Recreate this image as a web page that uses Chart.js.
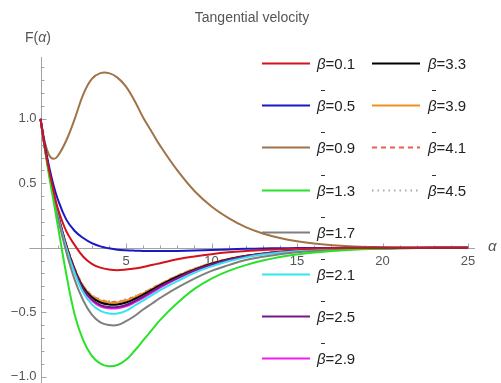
<!DOCTYPE html>
<html>
<head>
<meta charset="utf-8">
<script src="https://cdn.jsdelivr.net/npm/chart.js@4.4.0/dist/chart.umd.min.js"></script>
<style>
  html, body { margin: 0; padding: 0; background: #fff; }
  #wrap { width: 501px; height: 383px; }
</style>
</head>
<body>
<div id="wrap"><canvas id="velChart" width="501" height="383"></canvas></div>
<script>
// alpha grid shared by every curve
const alpha = [0, 0.25, 0.5, 0.75, 1, 1.5, 2, 2.5, 3, 3.5, 4, 4.5, 5, 5.5, 6, 6.5, 7, 8, 9, 10, 11, 12, 13, 14, 15, 16, 18, 20, 22, 25];

const betaLabels = ['0.1', '0.5', '0.9', '1.3', '1.7', '2.1', '2.5', '2.9', '3.3', '3.9', '4.1', '4.5'];

const fBeta01 = [1, 0.78, 0.6, 0.45, 0.31, 0.13, 0.02, -0.07, -0.125, -0.155, -0.17, -0.175, -0.17, -0.162, -0.15, -0.135, -0.12, -0.09, -0.068, -0.05, -0.036, -0.026, -0.018, -0.013, -0.009, -0.006, -0.003, -0.001, 0, 0];
const fBeta05 = [1, 0.8, 0.63, 0.49, 0.38, 0.22, 0.13, 0.075, 0.035, 0.01, -0.005, -0.015, -0.02, -0.023, -0.025, -0.026, -0.026, -0.025, -0.022, -0.018, -0.013, -0.009, -0.006, -0.004, -0.003, -0.002, -0.001, 0, 0, 0];
const fBeta09 = [1, 0.82, 0.72, 0.69, 0.71, 0.83, 1.0, 1.19, 1.31, 1.355, 1.355, 1.32, 1.25, 1.14, 1.01, 0.9, 0.79, 0.6, 0.44, 0.32, 0.23, 0.16, 0.11, 0.075, 0.05, 0.033, 0.012, 0.004, 0.001, 0];
const fBeta13 = [1, 0.77, 0.56, 0.37, 0.18, -0.2, -0.52, -0.72, -0.84, -0.9, -0.92, -0.91, -0.87, -0.8, -0.72, -0.64, -0.56, -0.43, -0.32, -0.24, -0.18, -0.135, -0.1, -0.072, -0.052, -0.037, -0.018, -0.008, -0.003, 0];
const fBeta17 = [1, 0.78, 0.58, 0.4, 0.24, -0.03, -0.25, -0.41, -0.52, -0.58, -0.6, -0.6, -0.57, -0.53, -0.48, -0.435, -0.39, -0.31, -0.24, -0.18, -0.135, -0.095, -0.07, -0.05, -0.036, -0.026, -0.013, -0.006, -0.002, 0];
const fBeta21 = [1, 0.78, 0.59, 0.41, 0.25, 0.0, -0.2, -0.35, -0.44, -0.49, -0.51, -0.51, -0.49, -0.45, -0.41, -0.37, -0.33, -0.26, -0.195, -0.145, -0.105, -0.075, -0.053, -0.038, -0.027, -0.02, -0.01, -0.004, -0.002, 0];
const fBeta25 = [1, 0.78, 0.59, 0.42, 0.26, 0.01, -0.18, -0.32, -0.4, -0.445, -0.46, -0.46, -0.445, -0.415, -0.38, -0.34, -0.3, -0.235, -0.175, -0.13, -0.093, -0.066, -0.047, -0.034, -0.025, -0.018, -0.009, -0.004, -0.002, 0];
const fBeta29 = [1, 0.78, 0.59, 0.42, 0.26, 0.01, -0.185, -0.33, -0.41, -0.455, -0.47, -0.47, -0.455, -0.425, -0.39, -0.35, -0.31, -0.24, -0.18, -0.133, -0.095, -0.068, -0.048, -0.035, -0.025, -0.018, -0.009, -0.004, -0.002, 0];
const fBeta33 = [1, 0.78, 0.6, 0.42, 0.27, 0.02, -0.17, -0.31, -0.385, -0.425, -0.44, -0.44, -0.425, -0.398, -0.365, -0.328, -0.29, -0.225, -0.17, -0.125, -0.09, -0.064, -0.046, -0.033, -0.024, -0.017, -0.009, -0.004, -0.002, 0];
const fBeta39 = [1, 0.78, 0.6, 0.43, 0.27, 0.025, -0.165, -0.3, -0.375, -0.41, -0.425, -0.425, -0.41, -0.385, -0.355, -0.32, -0.285, -0.22, -0.165, -0.122, -0.088, -0.063, -0.045, -0.032, -0.023, -0.017, -0.009, -0.004, -0.002, 0];
const fBeta41 = [1, 0.78, 0.6, 0.43, 0.27, 0.027, -0.162, -0.297, -0.37, -0.405, -0.42, -0.42, -0.405, -0.38, -0.352, -0.318, -0.283, -0.218, -0.164, -0.121, -0.087, -0.062, -0.045, -0.032, -0.023, -0.017, -0.009, -0.004, -0.002, 0];
const fBeta45 = [1, 0.78, 0.6, 0.43, 0.27, 0.03, -0.16, -0.293, -0.366, -0.4, -0.415, -0.415, -0.4, -0.376, -0.348, -0.314, -0.28, -0.216, -0.162, -0.12, -0.086, -0.062, -0.044, -0.032, -0.023, -0.017, -0.009, -0.004, -0.002, 0];

const xTickLabels = [5, 10, 15, 20, 25];
const yTickLabels = [-1.0, -0.5, 0.5, 1.0];

const lineColors = ['#d4121c', '#1818c4', '#a07348', '#28e228', '#7f7f7f', '#36e4f0', '#741a86', '#f01cf0', '#000000', '#f0901e', '#e8604a', '#a8a8a8'];
const lineDashes = [[], [], [], [], [], [], [], [], [], [], [5, 4], [1.5, 4]];

document.addEventListener('DOMContentLoaded', function() {
    const ctx = document.getElementById('velChart').getContext('2d');
    const allSeries = [fBeta01, fBeta05, fBeta09, fBeta13, fBeta17, fBeta21, fBeta25, fBeta29, fBeta33, fBeta39, fBeta41, fBeta45];

    const datasets = allSeries.map((vals, i) => ({
        label: 'β=' + betaLabels[i],
        data: alpha.map((a, k) => ({ x: a, y: vals[k] })),
        borderColor: lineColors[i],
        borderDash: lineDashes[i],
        borderWidth: 2,
        pointRadius: 0,
        fill: false,
        tension: 0.4
    }));

    function crisp(v) { return Math.round(v) + 0.5; }

    // axes crossing at the origin, with minor ticks
    const originAxes = {
        id: 'originAxes',
        beforeDatasetsDraw(chart) {
            const { ctx, chartArea, scales: { x, y } } = chart;
            const x0 = crisp(x.getPixelForValue(0));
            const y0 = crisp(y.getPixelForValue(0));
            ctx.save();
            ctx.strokeStyle = '#a3a3a3';
            ctx.lineWidth = 1;
            ctx.beginPath();
            ctx.moveTo(chartArea.left, y0);
            ctx.lineTo(chartArea.right, y0);
            ctx.moveTo(x0, chartArea.top);
            ctx.lineTo(x0, chartArea.bottom);
            for (let v = 1; v <= 25; v++) {
                const px = crisp(x.getPixelForValue(v));
                ctx.moveTo(px, y0);
                ctx.lineTo(px, y0 - (v % 5 === 0 ? 5 : 3));
            }
            for (let k = -10; k <= 14; k++) {
                if (k === 0) continue;
                const py = crisp(y.getPixelForValue(k / 10));
                ctx.moveTo(x0, py);
                ctx.lineTo(x0 + (k % 5 === 0 ? 5 : 3), py);
            }
            ctx.stroke();

            ctx.fillStyle = '#555';
            ctx.font = '13px Arial';
            ctx.textAlign = 'center';
            ctx.textBaseline = 'top';
            xTickLabels.forEach(v => ctx.fillText(String(v), x.getPixelForValue(v), y0 + 6));
            ctx.textAlign = 'right';
            ctx.textBaseline = 'middle';
            yTickLabels.forEach(v => {
                const txt = (v < 0 ? '\u2212' : '') + Math.abs(v).toFixed(1);
                ctx.fillText(txt, x0 - 5, y.getPixelForValue(v));
            });
            ctx.restore();
        }
    };

    // title, axis names and the two-column legend
    const labelsAndLegend = {
        id: 'labelsAndLegend',
        afterDraw(chart) {
            const { ctx, scales: { x, y } } = chart;
            ctx.save();
            ctx.fillStyle = '#555';
            ctx.font = '14px Arial';
            ctx.textAlign = 'center';
            ctx.textBaseline = 'middle';
            ctx.fillText('Tangential velocity', 252, 18);

            // F(α)
            ctx.textAlign = 'left';
            ctx.font = '14px Arial';
            let px = 25;
            ctx.fillText('F(', px, 38);
            px += ctx.measureText('F(').width;
            ctx.font = 'italic 14px Arial';
            ctx.fillText('α', px, 38);
            px += ctx.measureText('α').width;
            ctx.font = '14px Arial';
            ctx.fillText(')', px, 38);

            // α at the end of the horizontal axis
            ctx.font = 'italic 15px Arial';
            ctx.fillText('α', 488, y.getPixelForValue(0) - 1);

            datasets.forEach((ds, i) => {
                const col = i < 8 ? 0 : 1;
                const row = i < 8 ? i : i - 8;
                const lx = col === 0 ? 262 : 372;
                const tx = col === 0 ? 317 : 428;
                const ry = Math.round(63 + row * 42.2) + 0.5;

                ctx.strokeStyle = ds.borderColor;
                ctx.lineWidth = 2;
                ctx.setLineDash(ds.borderDash);
                ctx.beginPath();
                ctx.moveTo(lx, ry);
                ctx.lineTo(lx + 48, ry);
                ctx.stroke();
                ctx.setLineDash([]);

                ctx.fillStyle = '#222';
                ctx.font = 'italic 15px Arial';
                ctx.textBaseline = 'middle';
                ctx.fillText('β', tx, ry + 1);
                const bw = ctx.measureText('β').width;
                ctx.font = '15px Arial';
                ctx.fillText('=' + betaLabels[i], tx + bw, ry + 1);

                if (row > 0) {
                    ctx.strokeStyle = '#333';
                    ctx.lineWidth = 1;
                    ctx.beginPath();
                    ctx.moveTo(tx + 4, ry - 15);
                    ctx.lineTo(tx + 8, ry - 15);
                    ctx.stroke();
                }
            });
            ctx.restore();
        }
    };

    new Chart(ctx, {
        type: 'line',
        data: { datasets: datasets },
        options: {
            responsive: false,
            animation: false,
            devicePixelRatio: 1,
            layout: { padding: { left: 29.4, right: 26.1, top: 57, bottom: 0 } },
            scales: {
                x: { type: 'linear', min: -0.65, max: 25.4, display: false },
                y: { type: 'linear', min: -1.05, max: 1.48, display: false }
            },
            plugins: {
                legend: { display: false },
                tooltip: { enabled: false }
            }
        },
        plugins: [originAxes, labelsAndLegend]
    });
});
</script>
</body>
</html>
